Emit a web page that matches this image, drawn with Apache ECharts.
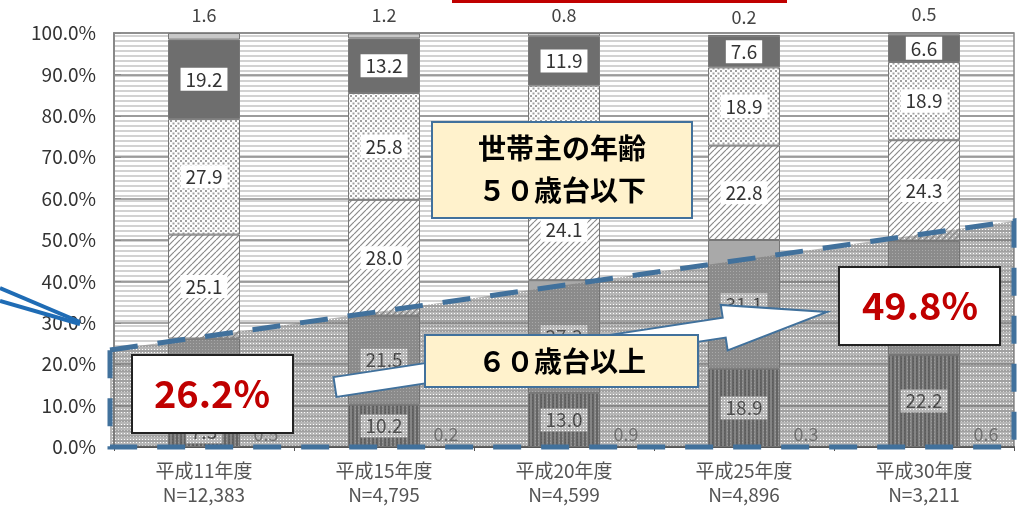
<!DOCTYPE html>
<html>
<head>
<meta charset="utf-8">
<script src="https://cdn.jsdelivr.net/npm/echarts@6/dist/echarts.min.js"></script>
<style>
html, body { margin: 0; padding: 0; background: #fff; }
#chart { width: 1025px; height: 507px; }
</style>
</head>
<body>
<div id="chart"></div>
<script>
// 年度とサンプル数
const years = ['平成11年度', '平成15年度', '平成20年度', '平成25年度', '平成30年度'];
const sampleN = ['N=12,383', 'N=4,795', 'N=4,599', 'N=4,896', 'N=3,211'];

// 世帯主の年齢別構成比（％）下から順
const age70over = [7.3, 10.2, 13.0, 18.9, 22.2];
const age60s = [18.9, 21.5, 27.3, 31.1, 27.6];
const age50s = [25.1, 28.0, 24.1, 22.8, 24.3];
const age40s = [27.9, 25.8, 22.9, 18.9, 18.9];
const age30s = [19.2, 13.2, 11.9, 7.6, 6.6];
const under30 = [1.6, 1.2, 0.8, 0.2, 0.5];
const unknown = [0.5, 0.2, 0.9, 0.3, 0.6];

const FONT = '"Noto Sans CJK JP", "Noto Sans", sans-serif';
const GRID = { left: 114, top: 33, right: 11, bottom: 57 };
const W = 1025, H = 507;

// 塗りパターン
function makePattern(w, h, bg, draw) {
  const c = document.createElement('canvas');
  c.width = w;
  c.height = h;
  const ctx = c.getContext('2d');
  if (bg) {
    ctx.fillStyle = bg;
    ctx.fillRect(0, 0, w, h);
  }
  draw(ctx);
  return { image: c, repeat: 'repeat' };
}

const stripePat = makePattern(5, 5, '#fff', (ctx) => {
  ctx.fillStyle = '#d2d2d2';
  ctx.fillRect(0, 0, 5, 2);
});
const dotPat = makePattern(5, 5, '#fff', (ctx) => {
  ctx.fillStyle = '#a0a0a0';
  ctx.fillRect(0, 0, 2, 2);
  ctx.fillRect(2.5, 2.5, 2, 2);
});
const hatchPat = makePattern(6, 6, '#fff', (ctx) => {
  ctx.strokeStyle = '#8a8a8a';
  ctx.lineWidth = 1.2;
  for (let k = -1; k <= 1; k++) {
    ctx.beginPath();
    ctx.moveTo(k * 6, 6);
    ctx.lineTo(k * 6 + 6, 0);
    ctx.stroke();
  }
});
const vlinePat = makePattern(4, 4, '#9a9a9a', (ctx) => {
  ctx.fillStyle = '#5a5a5a';
  ctx.fillRect(0, 0, 2, 4);
});
const overlayPat = makePattern(3, 3, null, (ctx) => {
  ctx.fillStyle = 'rgba(110,110,110,0.5)';
  ctx.fillRect(0, 0, 3, 3);
  ctx.clearRect(1, 1, 1, 1);
});

const valueLabel = {
  show: true,
  position: 'inside',
  formatter: (p) => p.value.toFixed(1),
  color: '#333',
  fontSize: 19,
  fontFamily: FONT,
  backgroundColor: '#fff',
  padding: [2, 5],
};

function barSeries(name, data, color, label) {
  return {
    name: name,
    type: 'bar',
    stack: 'total',
    barWidth: 72,
    data: data,
    itemStyle: { color: color, borderColor: '#777', borderWidth: 1 },
    label: label,
  };
}

// ブロック矢印
function arrowPoints(x0, y0, x1, y1, bodyHalf, headHalf, headLen) {
  const dx = x1 - x0, dy = y1 - y0;
  const len = Math.sqrt(dx * dx + dy * dy);
  const ux = dx / len, uy = dy / len;
  const vx = -uy, vy = ux;
  const local = [
    [0, -bodyHalf], [len - headLen, -bodyHalf], [len - headLen, -headHalf],
    [len, 0], [len - headLen, headHalf], [len - headLen, bodyHalf], [0, bodyHalf],
  ];
  return local.map(([u, v]) => [x0 + u * ux + v * vx, y0 + u * uy + v * vy]);
}

const chart = echarts.init(document.getElementById('chart'));

const option = {
  animation: false,
  backgroundColor: '#fff',
  grid: {
    left: GRID.left, top: GRID.top, right: GRID.right, bottom: GRID.bottom,
    show: true, borderColor: '#888', borderWidth: 1.5, backgroundColor: 'transparent',
  },
  xAxis: {
    type: 'category',
    data: years.map((y, i) => y + '\n' + sampleN[i]),
    axisLine: { lineStyle: { color: '#555', width: 2 } },
    axisTick: { show: true, length: 4, lineStyle: { color: '#555' } },
    axisLabel: { color: '#555', fontSize: 19, fontFamily: FONT, margin: 12, lineHeight: 24 },
  },
  yAxis: {
    type: 'value',
    min: 0,
    max: 100,
    interval: 10,
    axisLine: { show: true, lineStyle: { color: '#888', width: 2 } },
    axisTick: { show: true, inside: true, length: 7, lineStyle: { color: '#888' } },
    splitLine: { lineStyle: { color: '#888', width: 1.5 } },
    axisLabel: {
      color: '#333', fontSize: 19, fontFamily: FONT, margin: 18,
      formatter: (v) => v.toFixed(1) + '%',
    },
  },
  series: [
    barSeries('70歳以上', age70over, vlinePat, valueLabel),
    barSeries('60歳台', age60s, '#a9a9a9', valueLabel),
    barSeries('50歳台', age50s, hatchPat, valueLabel),
    barSeries('40歳台', age40s, dotPat, valueLabel),
    barSeries('30歳台', age30s, '#6e6e6e', valueLabel),
    barSeries('30歳未満', under30, '#c8c8c8', {
      show: true, position: 'top', distance: 9,
      formatter: (p) => p.value.toFixed(1),
      color: '#444', fontSize: 18, fontFamily: FONT,
    }),
    {
      name: '不詳',
      type: 'scatter',
      data: unknown.map((v, i) => [i, 0]),
      symbolSize: 1,
      itemStyle: { color: 'transparent' },
      label: {
        show: true, position: 'top', distance: 3, offset: [62, 0],
        formatter: (p) => unknown[p.dataIndex].toFixed(1),
        color: '#555', fontSize: 18, fontFamily: FONT,
      },
    },
  ],
  graphic: [
    // 背景の横縞
    {
      type: 'rect', z: -1, silent: true,
      shape: { x: GRID.left, y: GRID.top, width: W - GRID.left - GRID.right, height: H - GRID.top - GRID.bottom },
      style: { fill: stripePat },
    },
    // 60歳台以上の囲み
    {
      type: 'polygon', z: 50, silent: true,
      shape: { points: [[110, 350], [1014, 221], [1014, 447], [110, 447]] },
      style: { fill: overlayPat, stroke: '#41719c', lineWidth: 5, lineDash: [28, 20] },
    },
    // 矢印
    {
      type: 'polygon', z: 60, silent: true,
      shape: { points: arrowPoints(335, 387, 827, 312, 10, 23, 104) },
      style: { fill: '#fff', stroke: '#41719c', lineWidth: 2 },
    },
    {
      type: 'rect', z: 70, silent: true,
      shape: { x: 432, y: 122, width: 260, height: 96 },
      style: { fill: '#fff2cc', stroke: '#41719c', lineWidth: 2 },
    },
    {
      type: 'text', z: 71, silent: true,
      style: {
        text: '世帯主の年齢\n５０歳台以下', x: 562, y: 169, align: 'center', verticalAlign: 'middle',
        fontSize: 28, fontWeight: 'bold', fontFamily: FONT, fill: '#000', lineHeight: 42,
      },
    },
    {
      type: 'rect', z: 70, silent: true,
      shape: { x: 425, y: 335, width: 273, height: 52 },
      style: { fill: '#fff2cc', stroke: '#41719c', lineWidth: 2 },
    },
    {
      type: 'text', z: 71, silent: true,
      style: {
        text: '６０歳台以上', x: 562, y: 361, align: 'center', verticalAlign: 'middle',
        fontSize: 28, fontWeight: 'bold', fontFamily: FONT, fill: '#000',
      },
    },
    {
      type: 'rect', z: 70, silent: true,
      shape: { x: 132, y: 355, width: 161, height: 78 },
      style: { fill: '#fff', stroke: '#222', lineWidth: 2 },
    },
    {
      type: 'text', z: 71, silent: true,
      style: {
        text: '26.2%', x: 212, y: 394, align: 'center', verticalAlign: 'middle',
        fontSize: 38, fontWeight: 'bold', fontFamily: FONT, fill: '#c00000',
      },
    },
    {
      type: 'rect', z: 70, silent: true,
      shape: { x: 839, y: 267, width: 161, height: 78 },
      style: { fill: '#fff', stroke: '#222', lineWidth: 2 },
    },
    {
      type: 'text', z: 71, silent: true,
      style: {
        text: '49.8%', x: 920, y: 306, align: 'center', verticalAlign: 'middle',
        fontSize: 38, fontWeight: 'bold', fontFamily: FONT, fill: '#c00000',
      },
    },
    // 上端の赤線・左端の引き出し線
    {
      type: 'rect', z: 80, silent: true,
      shape: { x: 452, y: 0, width: 335, height: 3 },
      style: { fill: '#c00000' },
    },
    {
      type: 'line', z: 80, silent: true,
      shape: { x1: 0, y1: 288, x2: 80, y2: 322 },
      style: { stroke: '#1f6cb5', lineWidth: 4 },
    },
    {
      type: 'line', z: 80, silent: true,
      shape: { x1: 0, y1: 301, x2: 80, y2: 324 },
      style: { stroke: '#1f6cb5', lineWidth: 4 },
    },
  ],
};

chart.setOption(option);
</script>
</body>
</html>
